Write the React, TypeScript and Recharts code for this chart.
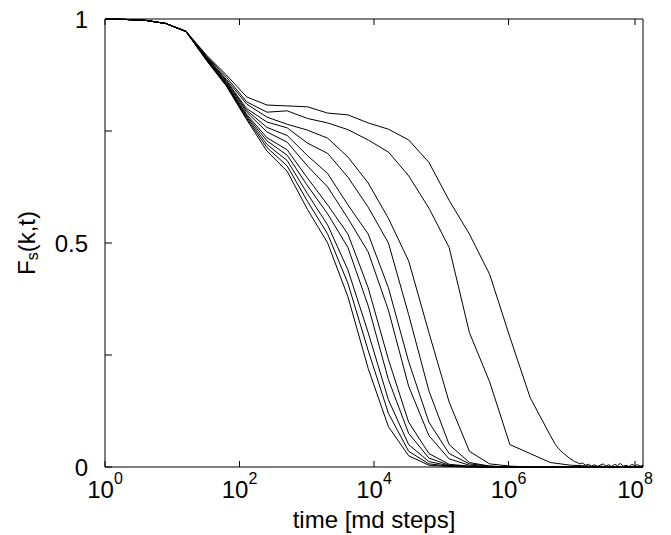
import React from 'react';
import { LineChart, Line, XAxis, YAxis } from 'recharts';

// time grid (md steps), factor 2 apart
const times = [
  1, 2, 4, 8, 16, 32, 64, 128, 256, 512, 1024, 2048, 4096, 8192, 16384, 32768,
  65536, 131072, 262144, 524288, 1048576, 2097152, 4194304, 8388608, 16777216,
  33554432, 67108864, 100000000,
];

// F_s(k,t) curves, slowest first
const curveA = [1, 0.999, 0.997, 0.99, 0.973, 0.92, 0.875, 0.826, 0.808, 0.806, 0.804, 0.79, 0.786, 0.768, 0.754, 0.73, 0.68, 0.595, 0.52, 0.43, 0.29, 0.155, 0.07];
const curveB = [1, 0.999, 0.997, 0.99, 0.973, 0.918, 0.87, 0.815, 0.792, 0.795, 0.778, 0.768, 0.753, 0.73, 0.703, 0.65, 0.578, 0.49, 0.3, 0.19, 0.05, 0.03, 0.01, 0.004, 0.002, 0.001, 0, 0];
const curveC3 = [1, 0.999, 0.997, 0.99, 0.972, 0.916, 0.865, 0.81, 0.781, 0.765, 0.752, 0.734, 0.692, 0.634, 0.555, 0.46, 0.3, 0.145, 0.035, 0.007, 0.002, 0, 0, 0, 0, 0, 0, 0];
const curveC4 = [1, 0.999, 0.997, 0.99, 0.972, 0.915, 0.862, 0.8, 0.77, 0.757, 0.723, 0.7, 0.647, 0.58, 0.5, 0.34, 0.17, 0.05, 0.01, 0.002, 0, 0, 0, 0, 0, 0, 0, 0];
const curveF7 = [1, 0.999, 0.997, 0.99, 0.972, 0.914, 0.86, 0.796, 0.758, 0.74, 0.695, 0.655, 0.585, 0.52, 0.4, 0.235, 0.1, 0.03, 0.007, 0.002, 0, 0, 0, 0, 0, 0, 0, 0];
const curveF6 = [1, 0.999, 0.997, 0.99, 0.972, 0.913, 0.857, 0.792, 0.748, 0.725, 0.672, 0.625, 0.555, 0.48, 0.35, 0.18, 0.07, 0.018, 0.004, 0.001, 0, 0, 0, 0, 0, 0, 0, 0];
const curveF5 = [1, 0.999, 0.997, 0.99, 0.972, 0.912, 0.855, 0.787, 0.735, 0.708, 0.645, 0.585, 0.52, 0.4, 0.24, 0.1, 0.03, 0.006, 0.002, 0, 0, 0, 0, 0, 0, 0, 0, 0];
const curveF4 = [1, 0.999, 0.997, 0.99, 0.972, 0.911, 0.853, 0.784, 0.728, 0.696, 0.628, 0.565, 0.49, 0.36, 0.195, 0.075, 0.02, 0.004, 0.001, 0, 0, 0, 0, 0, 0, 0, 0, 0];
const curveF3 = [1, 0.999, 0.997, 0.99, 0.972, 0.91, 0.852, 0.781, 0.72, 0.684, 0.61, 0.54, 0.44, 0.3, 0.15, 0.05, 0.012, 0.003, 0.001, 0, 0, 0, 0, 0, 0, 0, 0, 0];
const curveF2 = [1, 0.999, 0.997, 0.99, 0.972, 0.909, 0.851, 0.778, 0.713, 0.672, 0.593, 0.52, 0.41, 0.26, 0.12, 0.035, 0.007, 0.002, 0, 0, 0, 0, 0, 0, 0, 0, 0, 0];
const curveF1 = [1, 0.999, 0.997, 0.99, 0.972, 0.908, 0.85, 0.775, 0.705, 0.66, 0.575, 0.5, 0.38, 0.22, 0.09, 0.025, 0.004, 0.001, 0, 0, 0, 0, 0, 0, 0, 0, 0, 0];

// noisy tail of the slowest curve
const tailTimes = [5e6, 5.5e6, 6e6, 6.6e6, 7.2e6, 8e6, 8.8e6, 9.6e6, 1.05e7, 1.15e7, 1.26e7, 1.4e7, 1.55e7, 1.7e7, 1.9e7, 2.1e7, 2.3e7, 2.55e7, 2.8e7, 3.1e7, 3.4e7, 3.8e7, 4.2e7, 4.6e7, 5.1e7, 5.6e7, 6.2e7, 6.8e7, 7.5e7, 8.3e7, 9.1e7, 1e8];
const tailA = [0.05, 0.042, 0.036, 0.03, 0.026, 0.02, 0.016, 0.012, 0.01, 0.007, 0.009, 0.004, 0.006, 0.002, 0.005, 0.001, 0.004, 0.007, 0.002, 0.005, 0.001, 0.006, 0.003, 0.008, 0.002, 0.004, 0.001, 0.006, 0.003, 0.005, 0.002, 0.004];

const xTicks = [1, 100, 10000, 1000000, 100000000];
const yTicks = [0, 0.25, 0.5, 0.75, 1];
const yLabels: Record<number, string> = { 0: '0', 0.5: '0.5', 1: '1' };

const toPoints = (vals: number[]) => vals.map((v, i) => ({ t: times[i], v }));

const series = [
  [...toPoints(curveA), ...tailA.map((v, i) => ({ t: tailTimes[i], v }))],
  toPoints(curveB),
  toPoints(curveC3),
  toPoints(curveC4),
  toPoints(curveF7),
  toPoints(curveF6),
  toPoints(curveF5),
  toPoints(curveF4),
  toPoints(curveF3),
  toPoints(curveF2),
  toPoints(curveF1),
];

const font = '"Liberation Sans", Arial, sans-serif';

const XTick = (props: any) => {
  const { x, y, payload } = props;
  const exp = Math.round(Math.log10(payload.value));
  return (
    <g>
      <line x1={x} x2={x} y1={y} y2={y - 6} stroke="#000" />
      <text x={x} y={y + 31} textAnchor="middle" fontFamily={font} fontSize={24} fill="#000">
        10<tspan dy={-14} fontSize={16}>{exp}</tspan>
      </text>
    </g>
  );
};

const TopTick = (props: any) => {
  const { x, y } = props;
  return <line x1={x} x2={x} y1={y} y2={y + 6} stroke="#000" />;
};

const YTick = (props: any) => {
  const { x, y, payload } = props;
  const label = yLabels[payload.value];
  return (
    <g>
      <line x1={x} x2={x + 7} y1={y} y2={y} stroke="#000" />
      {label !== undefined && (
        <text x={x - 17} y={y + 9} textAnchor="end" fontFamily={font} fontSize={24} fill="#000">
          {label}
        </text>
      )}
    </g>
  );
};

const RightTick = (props: any) => {
  const { x, y } = props;
  return <line x1={x} x2={x - 7} y1={y} y2={y} stroke="#000" />;
};

const XTitle = (props: any) => {
  const { x, y, width } = props.viewBox;
  return (
    <text x={x + width / 2} y={y + 61} textAnchor="middle" fontFamily={font} fontSize={24} fill="#000">
      time [md steps]
    </text>
  );
};

const YTitle = (props: any) => {
  const { y, height } = props.viewBox;
  const cx = 26;
  const cy = y + height / 2;
  return (
    <text x={cx} y={cy} transform={`rotate(-90, ${cx}, ${cy})`} textAnchor="middle" dominantBaseline="central" fontFamily={font} fontSize={24} fill="#000">
      F<tspan dy={6} fontSize={16}>s</tspan><tspan dy={-6}>(k,t)</tspan>
    </text>
  );
};

const App: React.FC = () => {
  return (
    <div style={{ position: 'fixed', left: 0, top: 0, width: 671, height: 535, background: '#fff' }}>
      <LineChart width={671} height={535} margin={{ top: 0, right: 0, bottom: 0, left: 0 }}>
        <XAxis
          dataKey="t"
          type="number"
          scale="log"
          domain={[1, 100000000]}
          allowDataOverflow
          ticks={xTicks}
          tick={<XTick />}
          tickLine={false}
          tickSize={0}
          tickMargin={0}
          height={68}
          axisLine={{ stroke: '#000' }}
          label={{ content: <XTitle /> }}
        />
        <XAxis
          xAxisId="top"
          orientation="top"
          dataKey="t"
          type="number"
          scale="log"
          domain={[1, 100000000]}
          allowDataOverflow
          ticks={xTicks}
          tick={<TopTick />}
          tickLine={false}
          tickSize={0}
          tickMargin={0}
          height={19}
          axisLine={{ stroke: '#000' }}
        />
        <YAxis
          type="number"
          domain={[0, 1]}
          ticks={yTicks}
          tick={<YTick />}
          tickLine={false}
          tickSize={0}
          tickMargin={0}
          width={105}
          axisLine={{ stroke: '#000' }}
          label={{ content: <YTitle /> }}
        />
        <YAxis
          yAxisId="right"
          orientation="right"
          type="number"
          domain={[0, 1]}
          ticks={yTicks}
          tick={<RightTick />}
          tickLine={false}
          tickSize={0}
          tickMargin={0}
          width={28}
          axisLine={{ stroke: '#000' }}
        />
        {series.map((data, i) => (
          <Line
            key={i}
            data={data}
            dataKey="v"
            type="linear"
            stroke="#000"
            strokeWidth={1}
            dot={false}
            isAnimationActive={false}
          />
        ))}
      </LineChart>
    </div>
  );
};

export default App;
